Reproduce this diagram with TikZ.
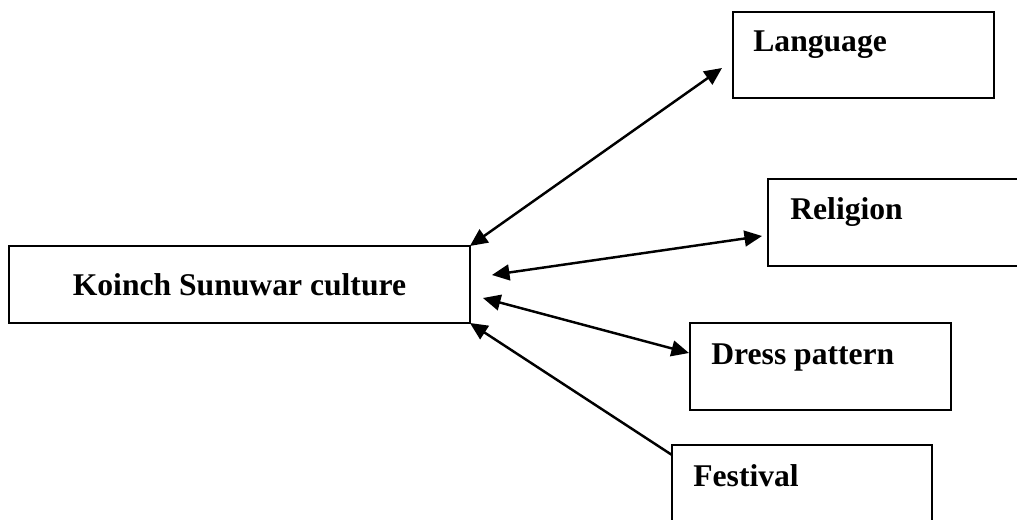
\documentclass[tikz,border=0pt]{standalone}
\usepackage{fontspec}
\setmainfont{Liberation Serif}
\usetikzlibrary{arrows.meta}

\begin{document}
\begin{tikzpicture}
      [
        x=0.02cm, y=-0.02cm,
        box/.style = {draw, rectangle, line width=1.1pt, outer sep=0pt, inner sep=0pt, anchor=north west},
        lbl/.style = {inner sep=0pt, anchor=base west, font=\fontsize{18}{20}\selectfont\bfseries},
        link/.style = {line width=1.4pt, {Triangle[length=10pt,width=9pt]}-{Triangle[length=10pt,width=9pt]}},
        onelink/.style = {line width=1.4pt, -{Triangle[length=10pt,width=9pt]}}
      ]

      \useasboundingbox (0,0) rectangle (1017,520);

      \node[box, minimum width=9.22cm, minimum height=1.54cm] (culture) at (9,246) {};
      \node[box, minimum width=5.22cm, minimum height=1.72cm] (lang) at (733,12) {};
      \node[box, minimum width=5.24cm, minimum height=1.74cm] (rel) at (768,179) {};
      \node[box, minimum width=5.22cm, minimum height=1.74cm] (dress) at (690,323) {};
      \node[box, minimum width=5.2cm, minimum height=1.74cm] (fest) at (672,445) {};

      \node[lbl, anchor=base] (culturetxt) at ([shift={(0,49)}]culture.north) {Koinch Sunuwar culture};
      \node[lbl] (langtxt) at ([shift={(20,40)}]lang.north west) {Language};
      \node[lbl] (reltxt) at ([shift={(22,40)}]rel.north west) {Religion};
      \node[lbl] (dresstxt) at ([shift={(21,41)}]dress.north west) {Dress pattern};
      \node[lbl] (festtxt) at ([shift={(21,41)}]fest.north west) {Festival};

      \draw[link] (culture.north east) -- ([shift={(-11,56)}]lang.north west);
      \draw[link] ([shift={(22,29)}]culture.north east) -- ([shift={(-6,57)}]rel.north west);
      \draw[link] ([shift={(13,52)}]culture.north east) -- ([shift={(-1,30)}]dress.north west);
      \draw[onelink] ([shift={(0,10)}]fest.north west) -- (culture.south east);

    \end{tikzpicture}
\end{document}
